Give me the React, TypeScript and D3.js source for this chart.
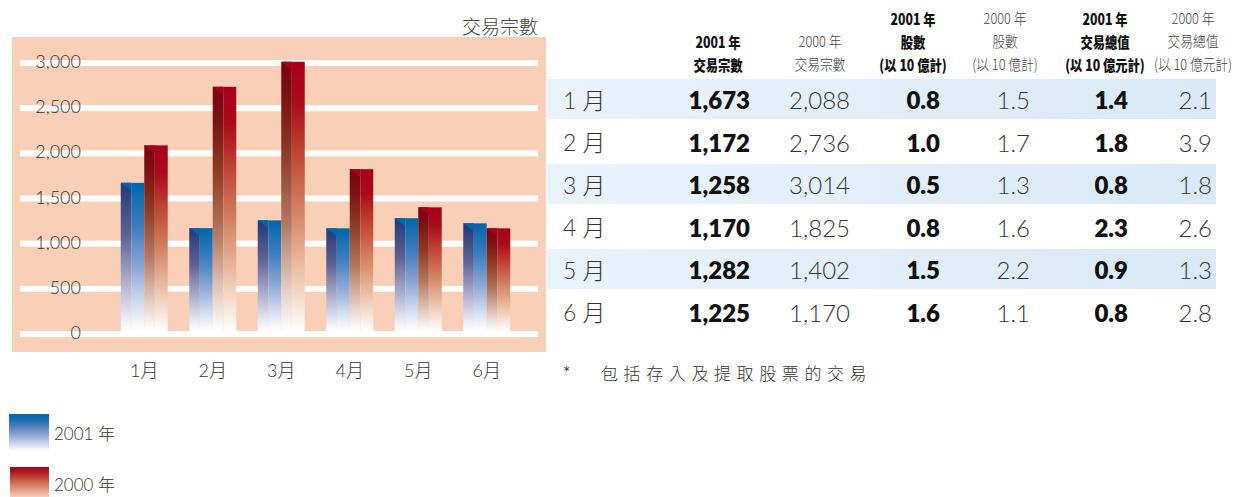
import React from 'react';
import * as d3 from 'd3';

const months = ['1月', '2月', '3月', '4月', '5月', '6月'];
const rowLabels = ['1 月', '2 月', '3 月', '4 月', '5 月', '6 月'];
const trades2001 = [1673, 1172, 1258, 1170, 1282, 1225];
const trades2000 = [2088, 2736, 3014, 1825, 1402, 1170];
const shares2001 = [0.8, 1.0, 0.5, 0.8, 1.5, 1.6];
const shares2000 = [1.5, 1.7, 1.3, 1.6, 2.2, 1.1];
const value2001 = [1.4, 1.8, 0.8, 2.3, 0.9, 0.8];
const value2000 = [2.1, 3.9, 1.8, 2.6, 1.3, 2.8];
const yTicks = [0, 500, 1000, 1500, 2000, 2500, 3000];
const seriesKeys = ['2001', '2000'];
const legendLabels = ['2001 年', '2000 年'];
const chartTitle = '交易宗數';
const noteStar = '*';
const noteText = '包括存入及提取股票的交易';

const headers = [
  { lines: ['2001 年', '交易宗數'], bold: true },
  { lines: ['2000 年', '交易宗數'], bold: false },
  { lines: ['2001 年', '股數', '(以 10 億計)'], bold: true },
  { lines: ['2000 年', '股數', '(以 10 億計)'], bold: false },
  { lines: ['2001 年', '交易總值', '(以 10 億元計)'], bold: true },
  { lines: ['2000 年', '交易總值', '(以 10 億元計)'], bold: false },
];

const FONT = "Lato, 'Noto Sans CJK TC', sans-serif";
const CJK = "'Noto Sans CJK TC', Lato, sans-serif";

export default function App() {
  const y = d3.scaleLinear().domain([0, 3000]).range([334, 63]);
  const x = d3.scaleBand<string>().domain(months).range([110, 521]).padding(0);
  const xs = d3.scaleBand<string>().domain(seriesKeys).range([0, 47]);
  const bw = xs.bandwidth();
  const fmtInt = d3.format(',');
  const fmt1 = d3.format('.1f');

  const rowY = d3.scaleBand<string>().domain(rowLabels).range([79, 334]);
  const colRight = [750, 850, 940, 1030, 1128, 1212];
  const headerX = [718, 820, 913, 1005, 1105, 1193];

  const columns = [
    { data: trades2001, f: fmtInt, bold: true },
    { data: trades2000, f: fmtInt, bold: false },
    { data: shares2001, f: fmt1, bold: true },
    { data: shares2000, f: fmt1, bold: false },
    { data: value2001, f: fmt1, bold: true },
    { data: value2000, f: fmt1, bold: false },
  ];

  const drawBar = (gx: number, v: number, key: string, i: number) => {
    const x0 = gx + (xs(key) as number);
    const xm = x0 + bw * 0.45;
    const x1 = x0 + bw;
    const top = y(v);
    const bottom = y(0) - 3;
    const blue = key === '2001';
    return (
      <g key={key + i}>
        <rect x={x0} y={top} width={xm - x0} height={bottom - top} fill={`url(#${blue ? 'bL' : 'rL'})`} />
        <rect x={xm} y={top} width={x1 - xm} height={bottom - top} fill={`url(#${blue ? 'bR' : 'rR'})`} />
        <polygon points={`${x0},${top} ${xm},${top} ${xm},${top + 8}`} fill={blue ? '#0066aa' : '#a8001c'} />
      </g>
    );
  };

  return (
    <svg width={1239} height={497} style={{ position: 'absolute', left: 0, top: 0 }}>
      <defs>
        <linearGradient id="bL" x1="0" y1="0" x2="0" y2="1">
          <stop offset="0" stopColor="#24387a" />
          <stop offset="0.35" stopColor="#5c6193" />
          <stop offset="0.62" stopColor="#a2a3c4" />
          <stop offset="0.85" stopColor="#dcdcec" />
          <stop offset="1" stopColor="#ffffff" />
        </linearGradient>
        <linearGradient id="bR" x1="0" y1="0" x2="0" y2="1">
          <stop offset="0" stopColor="#0066aa" />
          <stop offset="0.3" stopColor="#3f7ebe" />
          <stop offset="0.58" stopColor="#8ea8d6" />
          <stop offset="0.82" stopColor="#d3ddf1" />
          <stop offset="1" stopColor="#ffffff" />
        </linearGradient>
        <linearGradient id="rL" x1="0" y1="0" x2="0" y2="1">
          <stop offset="0" stopColor="#7a0012" />
          <stop offset="0.15" stopColor="#7c1414" />
          <stop offset="0.35" stopColor="#8e3c24" />
          <stop offset="0.6" stopColor="#b47860" />
          <stop offset="0.85" stopColor="#e6cfc4" />
          <stop offset="1" stopColor="#ffffff" />
        </linearGradient>
        <linearGradient id="rR" x1="0" y1="0" x2="0" y2="1">
          <stop offset="0" stopColor="#a8001c" />
          <stop offset="0.15" stopColor="#aa0a1c" />
          <stop offset="0.32" stopColor="#be4030" />
          <stop offset="0.58" stopColor="#d68a6a" />
          <stop offset="0.82" stopColor="#f0cdb8" />
          <stop offset="1" stopColor="#ffffff" />
        </linearGradient>
        <linearGradient id="legB" x1="0" y1="0" x2="0" y2="1">
          <stop offset="0" stopColor="#0066aa" />
          <stop offset="0.15" stopColor="#1a6cac" />
          <stop offset="0.5" stopColor="#7f98cc" />
          <stop offset="1" stopColor="#ffffff" />
        </linearGradient>
        <linearGradient id="legR" x1="0" y1="0" x2="0" y2="1">
          <stop offset="0" stopColor="#a8001c" />
          <stop offset="0.15" stopColor="#ac1420" />
          <stop offset="0.5" stopColor="#cc6a48" />
          <stop offset="1" stopColor="#f6cfbb" />
        </linearGradient>
        <linearGradient id="rowBg" x1="0" y1="0" x2="1" y2="0">
          <stop offset="0" stopColor="#eaf3fc" />
          <stop offset="1" stopColor="#d9e9f7" />
        </linearGradient>
      </defs>

      {/* chart background */}
      <rect x={12} y={37} width={534} height={315} fill="#f9cfb8" />
      <text x={538} y={25} textAnchor="end" dominantBaseline="central" fontFamily={CJK} fontWeight={300} fontSize={19} fill="#444">
        {chartTitle}
      </text>

      {/* grid lines and y tick labels */}
      {yTicks.map((t) => (
        <g key={t}>
          <rect x={20} y={y(t) - 3} width={518} height={6} fill="#ffffff" />
          <text x={81} y={y(t) - 2} textAnchor="end" dominantBaseline="central" fontFamily={FONT} fontWeight={300} fontSize={18} fill="#333">
            {fmtInt(t)}
          </text>
        </g>
      ))}

      {/* bars */}
      {months.map((m, i) => {
        const gx = (x(m) as number) + (x.bandwidth() - 47) / 2;
        return (
          <g key={m}>
            {drawBar(gx, trades2001[i], '2001', i)}
            {drawBar(gx, trades2000[i], '2000', i)}
          </g>
        );
      })}

      {/* x labels */}
      {months.map((m) => (
        <text key={m} x={(x(m) as number) + x.bandwidth() / 2} y={370} textAnchor="middle" dominantBaseline="central" fontFamily={FONT} fontWeight={300} fontSize={18} fill="#333">
          {m}
        </text>
      ))}

      {/* legend */}
      <rect x={9} y={414} width={40} height={37} fill="url(#legB)" />
      <text x={54} y={433} dominantBaseline="central" fontFamily={FONT} fontWeight={300} fontSize={17} fill="#333">{legendLabels[0]}</text>
      <rect x={10} y={467} width={39} height={30} fill="url(#legR)" />
      <text x={54} y={484} dominantBaseline="central" fontFamily={FONT} fontWeight={300} fontSize={17} fill="#333">{legendLabels[1]}</text>

      {/* table row bands */}
      {rowLabels.map((r, i) =>
        i % 2 === 0 ? <rect key={r} x={547} y={rowY(r) as number} width={669} height={40} fill="url(#rowBg)" /> : null
      )}

      {/* table headers */}
      {headers.map((h, c) => {
        const n = h.lines.length;
        return (
          <g key={c}>
            {h.lines.map((ln, k) => {
              const ly = 64 - (n - 1 - k) * 23;
              return (
                <text
                  key={k}
                  transform={`translate(${headerX[c]},${ly}) scale(${h.bold ? 0.82 : 0.85},1)`}
                  textAnchor="middle"
                  dominantBaseline="central"
                  fontFamily={CJK}
                  fontWeight={h.bold ? 900 : 300}
                  fontSize={15}
                  fill={h.bold ? '#111' : '#444'}
                >
                  {ln}
                </text>
              );
            })}
          </g>
        );
      })}

      {/* table rows */}
      {rowLabels.map((r, i) => {
        const cy = (rowY(r) as number) + 20.5;
        return (
          <g key={r}>
            <text x={563} y={cy} dominantBaseline="central" fontFamily={FONT} fontWeight={300} fontSize={23} fill="#333">{r}</text>
            {columns.map((col, c) => (
              <text
                key={c}
                x={colRight[c]}
                y={cy}
                textAnchor="end"
                dominantBaseline="central"
                fontFamily={FONT}
                fontWeight={col.bold ? 800 : 300}
                fontSize={24}
                fill={col.bold ? '#111' : '#333'}
              >
                {col.f(col.data[i])}
              </text>
            ))}
          </g>
        );
      })}

      {/* note */}
      <text x={563} y={372} dominantBaseline="central" fontFamily={FONT} fontSize={17} fill="#333">{noteStar}</text>
      <text x={601} y={372} dominantBaseline="central" fontFamily={CJK} fontWeight={300} fontSize={17} letterSpacing={5.6} fill="#333">{noteText}</text>
    </svg>
  );
}
